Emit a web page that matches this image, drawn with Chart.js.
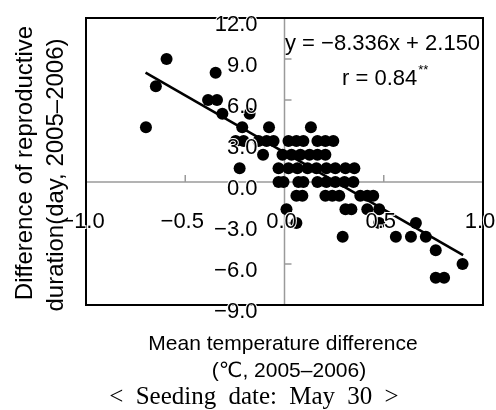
<!DOCTYPE html>
<html lang="en">
<head>
    <meta charset="UTF-8">
    <title>Reproductive duration vs mean temperature difference</title>
    <style>
        body { margin: 0; background: #fff; }
        #wrap { position: relative; width: 496px; height: 410px; }
    </style>
</head>
<body>
    <div id="wrap">
        <canvas id="scatterChart" width="496" height="410"></canvas>
    </div>

    <script src="https://cdn.jsdelivr.net/npm/chart.js"></script>
    <script>
        // values (x: mean temp diff, y: duration diff in days)
        var tempDiff = [
            -0.594,
            -0.347,
            -0.648,
            -0.385, -0.340,
            -0.313, -0.176,
            -0.698, -0.213, -0.078, 0.133,
            -0.246, -0.206, -0.131, -0.090, -0.055, 0.020, 0.060, 0.095, 0.166, 0.206, 0.246,
            -0.108, -0.010, 0.035, 0.080, 0.126, 0.166, 0.206,
            -0.226, -0.030, 0.020, 0.065, 0.116, 0.161, 0.211, 0.256, 0.307, 0.352,
            -0.030, -0.005, 0.070, 0.095, 0.166, 0.211, 0.256, 0.302, 0.347,
            0.060, 0.090, 0.206, 0.241, 0.276, 0.382, 0.417, 0.447,
            0.010, 0.307, 0.337, 0.417, 0.477,
            0.060, 0.477, 0.662,
            0.293, 0.561, 0.637, 0.712,
            0.762,
            0.897,
            0.762, 0.804
        ];
        var durationDiff = [
            9,
            8,
            7,
            6, 6,
            5, 5,
            4, 4, 4, 4,
            3, 3, 3, 3, 3, 3, 3, 3, 3, 3, 3,
            2, 2, 2, 2, 2, 2, 2,
            1, 1, 1, 1, 1, 1, 1, 1, 1, 1,
            0, 0, 0, 0, 0, 0, 0, 0, 0,
            -1, -1, -1, -1, -1, -1, -1, -1,
            -2, -2, -2, -2, -2,
            -3, -3, -3,
            -4, -4, -4, -4,
            -5,
            -6,
            -7, -7
        ];
        // ends of the fitted line as seen on the chart
        var fitX = [-0.70, 0.90];
        var fitY = [8.0, -5.35];

        var xTicks = [-1.0, -0.5, 0.0, 0.5, 1.0];
        var yTicks = [12.0, 9.0, 6.0, 3.0, 0.0, -3.0, -6.0, -9.0];
        var xTickMarks = [-0.5, 0.5];
        var yTickMarks = [9.0, 6.0, 3.0, -3.0, -6.0];

        var equationText = 'y = \u22128.336x + 2.150';
        var rText = 'r = 0.84';
        var yTitle = ['Difference of reproductive', 'duration(day, 2005\u20132006)'];
        var xTitle = ['Mean temperature difference', '(\u2103, 2005\u20132006)'];
        var footNote = '< Seeding date: May 30 >';

        function fmt(v) {
            return v.toFixed(1).replace('-', '\u2212');
        }

        var points = tempDiff.map(function (x, i) { return { x: x, y: durationDiff[i] }; });
        var fitLine = fitX.map(function (x, i) { return { x: x, y: fitY[i] }; });

        var SANS = '"Liberation Sans", Arial, "DejaVu Sans", sans-serif';

        // gray cross axes drawn under the dots
        var crossAxes = {
            id: 'crossAxes',
            beforeDatasetsDraw: function (chart) {
                var ctx = chart.ctx, xs = chart.scales.x, ys = chart.scales.y, a = chart.chartArea;
                var x0 = xs.getPixelForValue(0), y0 = ys.getPixelForValue(0);
                ctx.save();
                ctx.strokeStyle = '#9a9a9a';
                ctx.lineWidth = 1.5;
                ctx.beginPath();
                ctx.moveTo(x0, a.top); ctx.lineTo(x0, a.bottom);
                ctx.moveTo(a.left, y0); ctx.lineTo(a.right, y0);
                yTickMarks.forEach(function (v) {
                    var p = ys.getPixelForValue(v);
                    ctx.moveTo(x0, p); ctx.lineTo(x0 + 7, p);
                });
                xTickMarks.forEach(function (v) {
                    var p = xs.getPixelForValue(v);
                    ctx.moveTo(p, y0); ctx.lineTo(p, y0 - 7);
                });
                ctx.stroke();
                ctx.restore();
            },
            afterDraw: function (chart) {
                var ctx = chart.ctx, xs = chart.scales.x, ys = chart.scales.y, a = chart.chartArea;
                var x0 = xs.getPixelForValue(0), y0 = ys.getPixelForValue(0);
                ctx.save();

                // frame
                ctx.strokeStyle = '#000';
                ctx.lineWidth = 2;
                ctx.strokeRect(a.left, a.top, a.right - a.left, a.bottom - a.top);

                // tick labels, white halo so they read over the dots
                ctx.font = '22px ' + SANS;
                ctx.lineWidth = 2;
                ctx.strokeStyle = '#fff';
                ctx.fillStyle = '#000';
                ctx.textBaseline = 'alphabetic';
                ctx.textAlign = 'right';
                yTicks.forEach(function (v) {
                    var p = ys.getPixelForValue(v);
                    ctx.strokeText(fmt(v), x0 - 27, p + 12.5);
                    ctx.fillText(fmt(v), x0 - 27, p + 12.5);
                });
                ctx.textAlign = 'center';
                xTicks.forEach(function (v) {
                    var p = xs.getPixelForValue(v);
                    ctx.strokeText(fmt(v), p - 3, y0 + 46);
                    ctx.fillText(fmt(v), p - 3, y0 + 46);
                });

                // regression text
                ctx.textAlign = 'left';
                ctx.font = '22px ' + SANS;
                ctx.fillText(equationText, 285, 50);
                ctx.fillText(rText, 342, 85);
                var rw = ctx.measureText(rText).width;
                ctx.font = '13px ' + SANS;
                ctx.fillText('**', 342 + rw + 1, 74);

                // axis titles
                ctx.textAlign = 'center';
                ctx.font = '21px ' + SANS;
                ctx.fillText(xTitle[0], 283, 350);
                ctx.fillText(xTitle[1], 289, 377);

                ctx.font = '24px ' + SANS;
                ctx.save();
                ctx.translate(32, 163);
                ctx.rotate(-Math.PI / 2);
                ctx.fillText(yTitle[0], 0, 0);
                ctx.restore();
                ctx.save();
                ctx.translate(63, 175);
                ctx.rotate(-Math.PI / 2);
                ctx.fillText(yTitle[1], 0, 0);
                ctx.restore();

                ctx.font = '25px "Liberation Serif", "Times New Roman", serif';
                if ('wordSpacing' in ctx) ctx.wordSpacing = '6px';
                ctx.fillText(footNote, 254, 404);

                ctx.restore();
            }
        };

        var ctx = document.getElementById('scatterChart').getContext('2d');
        var chart = new Chart(ctx, {
            type: 'scatter',
            data: {
                datasets: [{
                    label: 'points',
                    data: points,
                    backgroundColor: '#000',
                    borderWidth: 0,
                    pointRadius: 6,
                    order: 2
                }, {
                    type: 'line',
                    label: 'fit',
                    data: fitLine,
                    borderColor: '#000',
                    borderWidth: 2.5,
                    pointRadius: 0,
                    fill: false,
                    order: 1
                }]
            },
            options: {
                responsive: false,
                animation: false,
                layout: { padding: { left: 86, right: 13, top: 18, bottom: 105 } },
                plugins: { legend: { display: false }, tooltip: { enabled: false } },
                scales: {
                    x: { type: 'linear', min: -1, max: 1, display: false },
                    y: { type: 'linear', min: -9, max: 12, display: false }
                }
            },
            plugins: [crossAxes]
        });
    </script>
</body>
</html>
